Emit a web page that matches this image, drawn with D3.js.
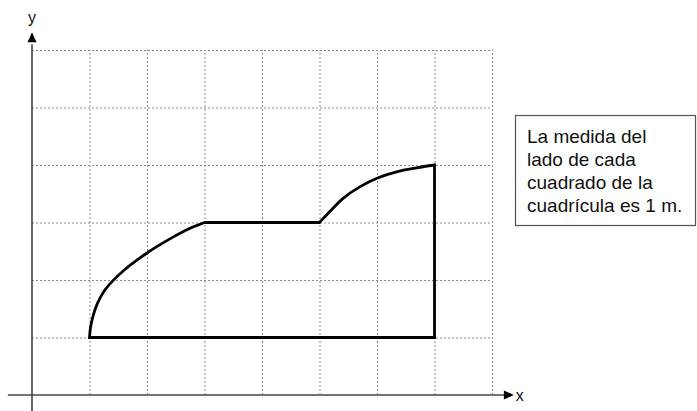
<!DOCTYPE html>
<html>
<head>
<meta charset="utf-8">
<script src="https://cdn.jsdelivr.net/npm/d3@7"></script>
<style>
  html, body { margin: 0; padding: 0; background: #fff; }
  svg { display: block; }
</style>
</head>
<body>
<svg id="chart" width="697" height="411"></svg>
<script>
// ---- data (grid units, 1 unit = 1 m) ----
const gridCols = [1, 2, 3, 4, 5, 6, 7, 8];
const gridRows = [1, 2, 3, 4, 5, 6];
const curve1 = [[1, 1], [1.02, 1.19], [1.066, 1.39], [1.136, 1.59], [1.25, 1.80], [1.40, 1.98], [1.60, 2.17], [1.83, 2.35], [2.0, 2.47], [2.17, 2.58], [2.46, 2.75], [2.75, 2.90], [3, 3]];
const flatTop = [[3, 3], [5, 3]];
const curve2 = [[5, 3], [5.18, 3.19], [5.41, 3.42], [5.70, 3.62], [6.0, 3.77], [6.34, 3.88], [6.69, 3.95], [7, 4]];
const closing = [[7, 4], [7, 1], [1, 1]];
const noteLines = ["La medida del", "lado de cada", "cuadrado de la", "cuadrícula es 1 m."];
const axisLabels = { x: "x", y: "y" };

const svg = d3.select("#chart");
const x = d3.scaleLinear().domain([0, 8]).range([32, 492]);
const y = d3.scaleLinear().domain([0, 6]).range([395, 50]);

// grid
const grid = svg.append("g").attr("stroke", "#8a8a8a").attr("stroke-width", 1)
  .attr("stroke-dasharray", "2,2").attr("fill", "none");
grid.selectAll("line.v").data(gridCols).join("line").attr("class", "v")
  .attr("x1", d => x(d) + 0.5).attr("x2", d => x(d) + 0.5)
  .attr("y1", y(0)).attr("y2", y(6));
grid.selectAll("line.h").data(gridRows).join("line").attr("class", "h")
  .attr("y1", d => y(d) + 0.5).attr("y2", d => y(d) + 0.5)
  .attr("x1", x(0)).attr("x2", x(8));

// axes
const axisColor = "#444";
svg.append("line").attr("x1", x(-0.42)).attr("x2", x(8.22)).attr("y1", y(0)).attr("y2", y(0))
  .attr("stroke", axisColor).attr("stroke-width", 1.6);
svg.append("line").attr("x1", x(0)).attr("x2", x(0)).attr("y1", 411).attr("y2", y(6.1))
  .attr("stroke", axisColor).attr("stroke-width", 1.6);
// arrowheads
const xt = x(8.38), yt = y(0);
svg.append("path").attr("d", `M${xt},${yt} L${xt - 10},${yt - 4.5} L${xt - 10},${yt + 4.5} Z`).attr("fill", "#000");
const ax = x(0), ay = y(6.31);
svg.append("path").attr("d", `M${ax},${ay} L${ax - 4.5},${ay + 10} L${ax + 4.5},${ay + 10} Z`).attr("fill", "#000");

svg.append("text").attr("x", xt + 2).attr("y", yt + 6).text(axisLabels.x)
  .attr("font-family", "Liberation Sans, Arial, sans-serif").attr("font-size", 16).attr("fill", "#111");
svg.append("text").attr("x", ax).attr("y", ay - 9).attr("text-anchor", "middle").text(axisLabels.y)
  .attr("font-family", "Liberation Sans, Arial, sans-serif").attr("font-size", 16).attr("fill", "#111");

// shape
const curveLine = d3.line().x(d => x(d[0])).y(d => y(d[1])).curve(d3.curveCatmullRom.alpha(0.5));
const straightLine = d3.line().x(d => x(d[0])).y(d => y(d[1]));
const dPath = curveLine(curve1)
  + straightLine(flatTop).replace(/^M/, "L")
  + curveLine(curve2).replace(/^M/, "L")
  + straightLine(closing).replace(/^M/, "L") + "Z";
svg.append("path").attr("d", dPath).attr("fill", "none").attr("stroke", "#000")
  .attr("stroke-width", 2.8).attr("stroke-linejoin", "miter");

// note box
const box = svg.append("g");
box.append("rect").attr("x", 515.5).attr("y", 115.5).attr("width", 180).attr("height", 110)
  .attr("fill", "#fff").attr("stroke", "#555").attr("stroke-width", 1.2);
box.selectAll("text").data(noteLines).join("text")
  .attr("x", 527).attr("y", (d, i) => 143 + i * 23)
  .attr("font-family", "Liberation Sans, Arial, sans-serif").attr("font-size", 19).attr("fill", "#111")
  .text(d => d);
</script>
</body>
</html>
